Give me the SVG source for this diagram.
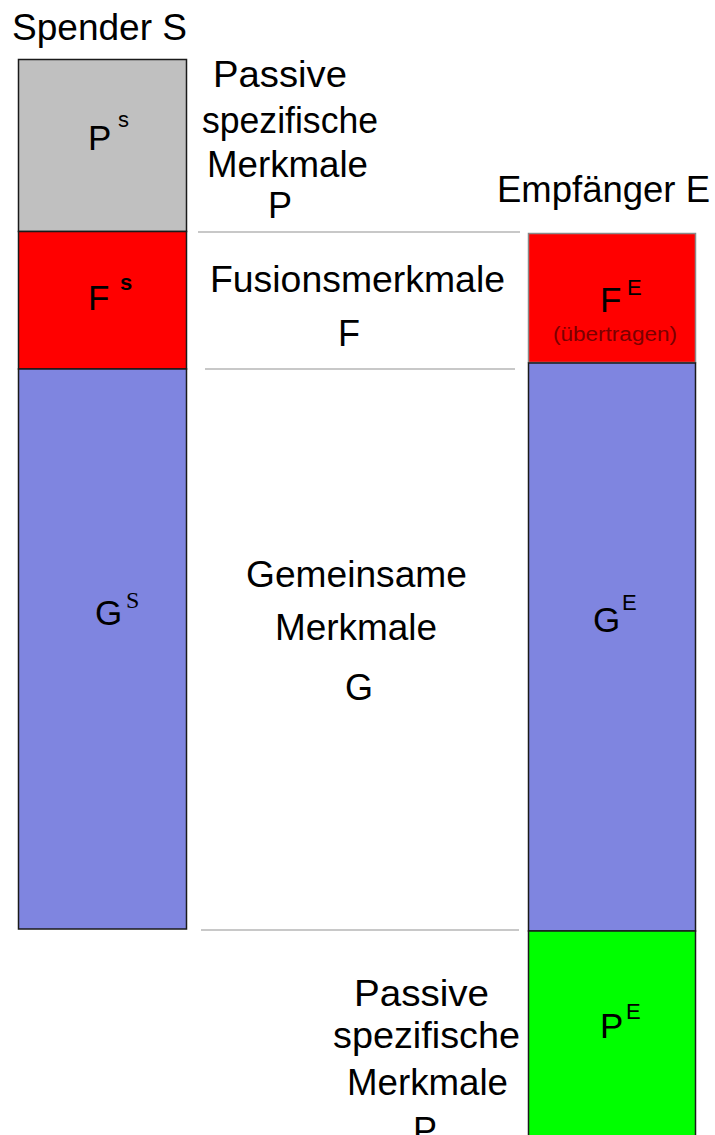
<svg xmlns="http://www.w3.org/2000/svg" width="715" height="1135" viewBox="0 0 715 1135">
  <style>
    text { font-family: "Liberation Sans", Arial, sans-serif; fill: #000; }
    .lbl { font-size: 36px; text-anchor: middle; }
    .sym { font-size: 35px; }
    .sup { font-size: 22px; }
    .supserif { font-family: "Liberation Serif", "Times New Roman", serif; font-size: 24px; }
    .sep { stroke: #c8c8c8; stroke-width: 2; fill: none; }
    .box { stroke: #1a1a1a; stroke-width: 1.5; }
    .grey { fill: #c0c0c0; }
    .red { fill: #ff0000; }
    .blue { fill: #7f85e0; }
    .green { fill: #00ff00; }
  </style>

  <!-- column headings -->
  <g id="title-spender">
    <text class="lbl" x="99.5" y="40" textLength="175" lengthAdjust="spacingAndGlyphs">Spender S</text>
  </g>
  <g id="title-empfaenger">
    <text class="lbl" x="603.5" y="202" textLength="213" lengthAdjust="spacingAndGlyphs">Empfänger E</text>
  </g>

  <!-- separators between the bands -->
  <g id="connectors">
    <line class="sep" x1="198" y1="232" x2="520" y2="232"/>
    <line class="sep" x1="205" y1="369" x2="515" y2="369"/>
    <line class="sep" x1="201" y1="930" x2="519" y2="930"/>
  </g>

  <!-- donor column -->
  <g id="node-PS">
    <rect class="box grey" x="18.5" y="59.5" width="168" height="172"/>
    <text class="sym" x="88" y="150">P</text>
    <text class="sup" x="118" y="127">s</text>
  </g>
  <g id="node-FS">
    <rect class="box red" x="18.5" y="231.5" width="168" height="137.5"/>
    <text class="sym" x="88" y="310">F</text>
    <text class="sup" x="120" y="290" font-weight="bold">s</text>
  </g>
  <g id="node-GS">
    <rect class="box blue" x="18.5" y="369" width="168" height="560"/>
    <text class="sym" x="95" y="625">G</text>
    <text class="supserif" x="126" y="608">S</text>
  </g>

  <!-- recipient column -->
  <g id="node-FE">
    <rect x="528.5" y="233.5" width="167" height="129" fill="#ff0000" stroke="#8a8a8a" stroke-width="1.5"/>
    <text class="sym" x="600" y="312">F</text>
    <text class="sup" x="627" y="295">E</text>
    <text x="615" y="341" font-size="20" text-anchor="middle" style="fill:#7a0000" textLength="124" lengthAdjust="spacingAndGlyphs">(übertragen)</text>
  </g>
  <g id="node-GE">
    <rect class="box blue" x="528.5" y="363" width="167" height="568"/>
    <text class="sym" x="593" y="632">G</text>
    <text class="sup" x="622" y="610">E</text>
  </g>
  <g id="node-PE">
    <rect class="box green" x="528.5" y="931" width="167" height="210"/>
    <text class="sym" x="600" y="1038">P</text>
    <text class="sup" x="626" y="1019">E</text>
  </g>

  <!-- middle descriptions -->
  <g id="label-P-top">
    <text class="lbl" x="280" y="87" textLength="134" lengthAdjust="spacingAndGlyphs">Passive</text>
    <text class="lbl" x="290" y="133" textLength="176" lengthAdjust="spacingAndGlyphs">spezifische</text>
    <text class="lbl" x="287.5" y="177" textLength="161" lengthAdjust="spacingAndGlyphs">Merkmale</text>
    <text class="lbl" x="280" y="218">P</text>
  </g>
  <g id="label-F">
    <text class="lbl" x="357.5" y="292" textLength="295" lengthAdjust="spacingAndGlyphs">Fusionsmerkmale</text>
    <text class="lbl" x="349" y="346">F</text>
  </g>
  <g id="label-G">
    <text class="lbl" x="356.5" y="587" textLength="221" lengthAdjust="spacingAndGlyphs">Gemeinsame</text>
    <text class="lbl" x="356" y="640" textLength="162" lengthAdjust="spacingAndGlyphs">Merkmale</text>
    <text class="lbl" x="359" y="700">G</text>
  </g>
  <g id="label-P-bottom">
    <text class="lbl" x="421.5" y="1006" textLength="135" lengthAdjust="spacingAndGlyphs">Passive</text>
    <text class="lbl" x="426.5" y="1048" textLength="187" lengthAdjust="spacingAndGlyphs">spezifische</text>
    <text class="lbl" x="427.5" y="1095" textLength="161" lengthAdjust="spacingAndGlyphs">Merkmale</text>
    <text class="lbl" x="425" y="1143">P</text>
  </g>
</svg>
